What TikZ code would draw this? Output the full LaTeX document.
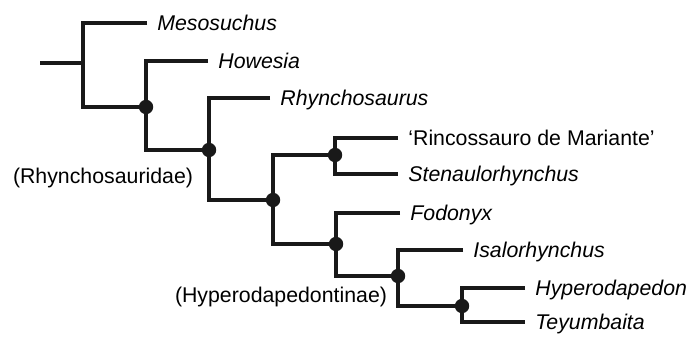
\documentclass[tikz,border=0pt]{standalone}
\usepackage{fontspec}
\setmainfont{Liberation Sans}
\usetikzlibrary{positioning}

\begin{document}
\begin{tikzpicture}[x=0.5pt,y=-0.5pt,
  branch/.style={line width=1.9pt,black!90},
  dot/.style={circle,fill=black!90,inner sep=0pt,minimum size=7.2pt},
  taxon/.style={font=\fontsize{10.65}{12}\selectfont\itshape,anchor=base west,
                inner sep=0pt,xshift=5pt,yshift=-3.8pt},
  group/.style={font=\fontsize{10.65}{12}\selectfont,inner sep=0pt}]
\useasboundingbox (0,0) rectangle (694,341);

% Split points of the tree
\coordinate (root) at (40,63);
\coordinate (n0) at (83,63);
\coordinate (n1) at (146,107);
\coordinate (n2) at (209,150);
\coordinate (n3) at (273,200);
\coordinate (n4) at (335,155);
\coordinate (n5) at (336,244);
\coordinate (n6) at (398,276);
\coordinate (n7) at (462,306);

% Tip ends
\coordinate (mes) at (147,23);
\coordinate (how) at (208,61);
\coordinate (rhy) at (270,98);
\coordinate (rin) at (398,138);
\coordinate (ste) at (398,174);
\coordinate (fod) at (400,213);
\coordinate (isa) at (463,250);
\coordinate (hyp) at (525,288);
\coordinate (tey) at (525,322);

% Branches
\draw[branch] (root) -- (n0);
\draw[branch] (mes) -| (n0) |- (n1);
\draw[branch] (how) -| (n1) |- (n2);
\draw[branch] (rhy) -| (n2) |- (n3);
\draw[branch] (n4) -| (n3) |- (n5);
\draw[branch] (rin) -| (n4) |- (ste);
\draw[branch] (fod) -| (n5) |- (n6);
\draw[branch] (isa) -| (n6) |- (n7);
\draw[branch] (hyp) -| (n7) |- (tey);

% Supported clades
\foreach \n in {n1,n2,n3,n4,n5,n6,n7}
  \node[dot] (\n dot) at (\n) {};

% Taxon names
\node[taxon] (mesL) at (mes) {Mesosuchus};
\node[taxon] (howL) at (how) {Howesia};
\node[taxon] (rhyL) at (rhy) {Rhynchosaurus};
\node[taxon,font=\fontsize{10.65}{12}\selectfont\upshape] (rinL) at (rin) {‘Rincossauro de Mariante’};
\node[taxon] (steL) at (ste) {Stenaulorhynchus};
\node[taxon] (fodL) at (fod) {Fodonyx};
\node[taxon] (isaL) at (isa) {Isalorhynchus};
\node[taxon] (hypL) at (hyp) {Hyperodapedon};
\node[taxon] (teyL) at (tey) {Teyumbaita};

% Clade names
\node[group] (rhynchosauridae) at (103,178) {(Rhynchosauridae)};
\node[group] (hyperodapedontinae) at (281,297) {(Hyperodapedontinae)};
\end{tikzpicture}
\end{document}
